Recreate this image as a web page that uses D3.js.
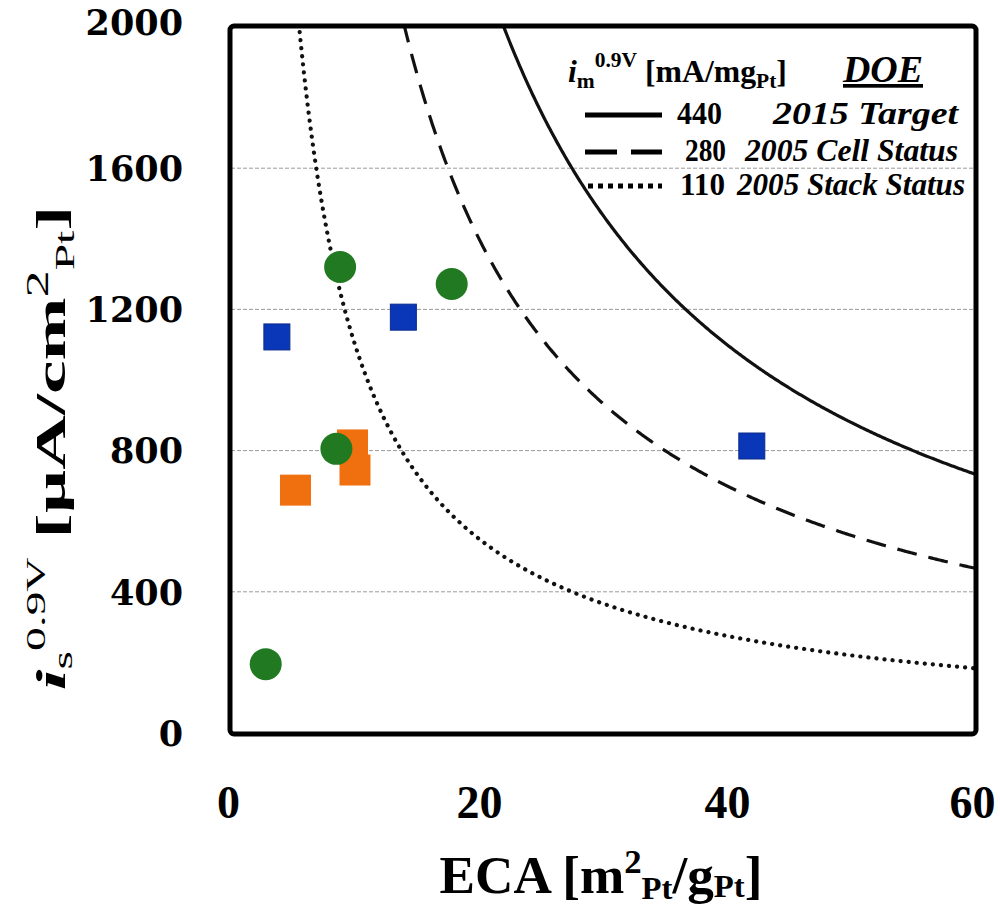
<!DOCTYPE html>
<html>
<head>
<meta charset="utf-8">
<script src="https://cdn.jsdelivr.net/npm/d3@7"></script>
<style>
  body { margin: 0; background: #fff; }
  text { font-family: "Liberation Serif", "Times New Roman", serif; }
</style>
</head>
<body>
<div id="chart"></div>
<script>
// Data
const greenECA = [2.8, 8.8, 17.8, 8.5];
const greenIs  = [195, 1320, 1272, 805];
const blueECA  = [3.7, 13.9, 42.0];
const blueIs   = [1122, 1178, 813];
const orangeECA = [5.2, 9.8, 10.0];
const orangeIs  = [688, 816, 745];

// Mass activity iso-lines [mA/mgPt]
const imValues = [440, 280, 110];
const imLabels = ["2015 Target", "2005 Cell Status", "2005 Stack Status"];

const xTicks = [0, 20, 40, 60];
const yTicks = [0, 400, 800, 1200, 1600, 2000];

// Margins of the graph
const margin = { top: 27, right: 25, bottom: 175, left: 231 };
const width = 1000 - margin.left - margin.right;
const height = 908 - margin.top - margin.bottom;

const svgRoot = d3.select("#chart").append("svg")
  .attr("width", 1000)
  .attr("height", 908);

const svg = svgRoot.append("g")
  .attr("transform", `translate(${margin.left}, ${margin.top})`);

const x = d3.scaleLinear([0, 60], [0, width]);
const y = d3.scaleLinear([0, 2000], [height, 0]);

svg.append("clipPath").attr("id", "plotclip")
  .append("rect").attr("width", width).attr("height", height);

// squeeze / stretch a text horizontally so it spans the given width
function fitWidth(sel, target, cx, cy) {
  const w = sel.node().getBBox().width;
  const s = target / w;
  sel.attr("transform", `translate(${cx}, ${cy}) scale(${s}, 1) translate(${-cx}, ${-cy})`);
}

// gridlines
svg.append("g")
  .selectAll("line")
  .data(yTicks.filter(d => d > 0 && d < 2000))
  .join("line")
  .attr("x1", 0).attr("x2", width)
  .attr("y1", d => y(d)).attr("y2", d => y(d))
  .attr("stroke", "#9a9a9a")
  .attr("stroke-width", 1)
  .attr("stroke-dasharray", "4 2");

// iso mass-activity curves: i_s = 100 * i_m / ECA
const curveStyle = [
  { dash: "none", w: 3.2, cap: "butt" },
  { dash: "20 12", w: 3.2, cap: "butt" },
  { dash: "0.1 8", w: 4.2, cap: "round" }
];
const line = d3.line().x(d => x(d[0])).y(d => y(d[1]));
const curves = svg.append("g").attr("clip-path", "url(#plotclip)");
imValues.forEach((im, i) => {
  const start = 100 * im / 2100;
  const pts = d3.range(start, 60.01, 0.1).map(e => [e, 100 * im / e]);
  curves.append("path")
    .attr("d", line(pts))
    .attr("fill", "none")
    .attr("stroke", "#111")
    .attr("stroke-width", curveStyle[i].w)
    .attr("stroke-linecap", curveStyle[i].cap)
    .attr("stroke-dasharray", curveStyle[i].dash);
});

// orange squares
const oSize = 31;
svg.append("g")
  .selectAll("rect")
  .data(orangeECA.map((e, i) => [e, orangeIs[i]]))
  .join("rect")
  .attr("x", d => x(d[0]) - oSize / 2)
  .attr("y", d => y(d[1]) - oSize / 2)
  .attr("width", oSize).attr("height", oSize)
  .attr("fill", "#f07010");

// blue squares
const bSize = 26;
svg.append("g")
  .selectAll("rect")
  .data(blueECA.map((e, i) => [e, blueIs[i]]))
  .join("rect")
  .attr("x", d => x(d[0]) - bSize / 2)
  .attr("y", d => y(d[1]) - bSize / 2)
  .attr("width", bSize).attr("height", bSize)
  .attr("fill", "#0a37b8")
  .attr("stroke", "#0a2a8a")
  .attr("stroke-width", 1);

// green circles
svg.append("g")
  .selectAll("circle")
  .data(greenECA.map((e, i) => [e, greenIs[i]]))
  .join("circle")
  .attr("cx", d => x(d[0]))
  .attr("cy", d => y(d[1]))
  .attr("r", 16)
  .attr("fill", "#217a21");

// frame
svg.append("rect")
  .attr("x", -1).attr("y", -1)
  .attr("width", width + 2).attr("height", height + 2)
  .attr("rx", 4)
  .attr("fill", "none")
  .attr("stroke", "#000")
  .attr("stroke-width", 5);

// y axis labels
const yAxis = svg.append("g")
  .call(d3.axisLeft(y).tickValues(yTicks).tickSize(0).tickPadding(48).tickFormat(d3.format("d")));
yAxis.select(".domain").remove();
yAxis.selectAll("text")
  .style("font-family", "'DejaVu Serif', serif")
  .style("font-weight", "bold")
  .style("font-size", "35px")
  .attr("dy", d => d === 2000 ? "0.2em" : "0.35em");

// x axis labels
const xAxis = svg.append("g")
  .attr("transform", `translate(0, ${height})`)
  .call(d3.axisBottom(x).tickValues(xTicks).tickSize(0).tickPadding(52));
xAxis.select(".domain").remove();
xAxis.selectAll("text")
  .style("font-family", "'Liberation Serif', serif")
  .style("font-weight", "bold")
  .style("font-size", "46px")
  .attr("dy", "0.71em")
  .attr("x", d => d === 0 ? -3 : (d === 60 ? -3 : 0));

// x axis title
const xt = svgRoot.append("text")
  .attr("x", 601).attr("y", 893)
  .attr("text-anchor", "middle")
  .style("font-weight", "bold")
  .style("font-size", "52px");
xt.append("tspan").text("ECA [m");
xt.append("tspan").attr("dy", -20).style("font-size", "34px").text("2");
xt.append("tspan").attr("dy", 26).style("font-size", "32px").text("Pt");
xt.append("tspan").attr("dy", -6).text("/g");
xt.append("tspan").attr("dy", 4).style("font-size", "32px").text("Pt");
xt.append("tspan").attr("dy", -4).text("]");
fitWidth(xt, 323, 601, 893);

// y axis title
const ytG = svgRoot.append("g").attr("transform", "translate(65, 448) rotate(-90)");
const yt = ytG.append("text")
  .attr("x", 0).attr("y", 0)
  .attr("text-anchor", "middle")
  .style("font-size", "43px");
yt.append("tspan").style("font-weight", "bold").style("font-style", "italic").text("i");
yt.append("tspan").attr("dy", 7).style("font-size", "27px").text("s");
yt.append("tspan").attr("dy", -27).style("font-size", "27px").text("0.9V");
yt.append("tspan").attr("dy", 20).style("font-weight", "bold").text(" [\u00b5A/cm");
yt.append("tspan").attr("dy", -17).style("font-size", "31px").text("2");
yt.append("tspan").attr("dy", 26).style("font-size", "27px").text("Pt");
yt.append("tspan").attr("dy", -9).style("font-weight", "bold").text("]");
fitWidth(yt, 485, 0, 0);

// legend
const lg = svgRoot.append("g");
const lt = lg.append("text").attr("x", 568).attr("y", 82)
  .style("font-weight", "bold").style("font-size", "31px");
lt.append("tspan").style("font-style", "italic").text("i");
lt.append("tspan").attr("dy", 6).style("font-size", "21px").text("m");
lt.append("tspan").attr("dy", -21).style("font-size", "21px").text("0.9V");
lt.append("tspan").attr("dy", 15).text(" [mA/mg");
lt.append("tspan").attr("dy", 6).style("font-size", "21px").text("Pt");
lt.append("tspan").attr("dy", -6).text("]");
fitWidth(lt, 219, 568, 82);

lg.append("text").attr("x", 883).attr("y", 82)
  .attr("text-anchor", "middle")
  .style("font-weight", "bold").style("font-style", "italic")
  .style("font-size", "37px")
  .style("text-decoration", "underline")
  .attr("textLength", 80).attr("lengthAdjust", "spacingAndGlyphs")
  .text("DOE");

const legY = [115, 152, 186];
const legNumX = [677, 685, 680];
const legTextX = [773, 745, 737];
const legTextW = [185, 213, 228];
imValues.forEach((im, i) => {
  lg.append("line")
    .attr("x1", i === 2 ? 588 : 585).attr("x2", 662)
    .attr("y1", legY[i]).attr("y2", legY[i])
    .attr("stroke", "#000")
    .attr("stroke-width", 5)
    .attr("stroke-dasharray", i === 0 ? "none" : (i === 1 ? "32 14" : "5 5"));
  lg.append("text").attr("x", legNumX[i]).attr("y", legY[i] + 9)
    .style("font-weight", "bold").style("font-size", "31px")
    .attr("textLength", i === 1 ? 41 : 45).attr("lengthAdjust", "spacingAndGlyphs")
    .text(im);
  lg.append("text").attr("x", legTextX[i]).attr("y", legY[i] + 9)
    .style("font-weight", "bold").style("font-style", "italic")
    .style("font-size", "32px")
    .attr("textLength", legTextW[i]).attr("lengthAdjust", "spacingAndGlyphs")
    .text(imLabels[i]);
});
</script>
</body>
</html>
